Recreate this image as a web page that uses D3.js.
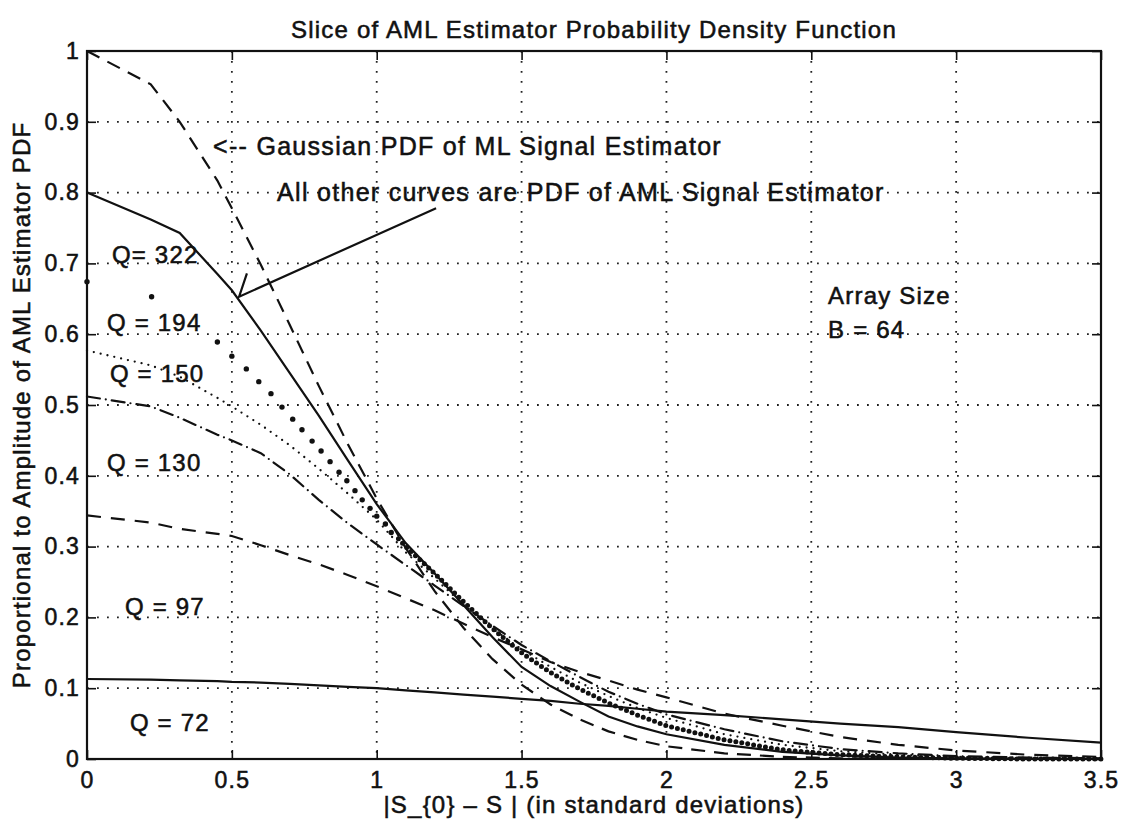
<!DOCTYPE html>
<meta charset="utf-8">
<style>
body { margin: 0; background: #fff; }
text { font-family: "Liberation Sans", Arial, Helvetica, sans-serif; fill: #111; stroke: #111; stroke-width: 0.55px; }
.grid line { stroke: #222; stroke-width: 1.8; stroke-dasharray: 1.8, 8.2; }
.axis path { display: none; }
.axis line { stroke: #111; stroke-width: 1.6; }
.axis text { font-size: 23px; letter-spacing: 1.2px; }
.curve { fill: none; stroke: #111; stroke-width: 2.2; }
.lbl { font-size: 24px; letter-spacing: 1.2px; }
.note { font-size: 25px; letter-spacing: 1.3px; }
</style>
<body>
<svg id="chart" width="1121" height="821"></svg>

<script src="https://d3js.org/d3.v7.min.js"></script>
<script>

// ---- data ----
var xTicks = [0, 0.5, 1, 1.5, 2, 2.5, 3, 3.5];
var yTicks = [0, 0.1, 0.2, 0.3, 0.4, 0.5, 0.6, 0.7, 0.8, 0.9, 1];

// common x samples (standard deviations)
var xs = [0, 0.22, 0.32, 0.45, 0.5, 0.6, 0.7, 0.8, 0.9, 1.0, 1.1, 1.2, 1.3, 1.4,
          1.5, 1.6, 1.7, 1.8, 1.9, 2.0, 2.2, 2.4, 2.6, 2.8, 3.0, 3.25, 3.5];

// Gaussian PDF of ML estimator
var gaussML = [1.0, 0.953, 0.90, 0.817, 0.778, 0.698, 0.613, 0.527, 0.445, 0.368, 0.298, 0.237, 0.185, 0.141,
               0.105, 0.077, 0.056, 0.039, 0.027, 0.018, 0.008, 0.003, 0.001, 0, 0, 0, 0];
var q322 = [0.80, 0.762, 0.743, 0.685, 0.662, 0.605, 0.545, 0.485, 0.422, 0.36, 0.305, 0.262, 0.217, 0.172,
            0.13, 0.103, 0.081, 0.06, 0.046, 0.035, 0.02, 0.01, 0.005, 0.002, 0.001, 0, 0];
var q150 = [0.577, 0.556, 0.54, 0.51, 0.498, 0.472, 0.443, 0.41, 0.375, 0.338, 0.292, 0.255, 0.218, 0.184,
            0.155, 0.13, 0.108, 0.089, 0.072, 0.058, 0.035, 0.02, 0.011, 0.006, 0.003, 0.001, 0];
var q130 = [0.512, 0.498, 0.482, 0.458, 0.45, 0.432, 0.402, 0.366, 0.333, 0.303, 0.274, 0.245, 0.216, 0.188,
            0.161, 0.138, 0.116, 0.095, 0.078, 0.063, 0.042, 0.025, 0.014, 0.008, 0.004, 0.002, 0.001];
var q97 = [0.344, 0.334, 0.325, 0.318, 0.315, 0.302, 0.288, 0.275, 0.26, 0.244, 0.227, 0.21, 0.191, 0.172,
           0.155, 0.137, 0.123, 0.111, 0.098, 0.087, 0.064, 0.047, 0.031, 0.02, 0.012, 0.006, 0.003];
var q72 = [0.113, 0.112, 0.111, 0.11, 0.109, 0.108, 0.106, 0.104, 0.102, 0.1, 0.097, 0.094, 0.091, 0.088,
           0.085, 0.082, 0.078, 0.075, 0.071, 0.067, 0.062, 0.056, 0.05, 0.045, 0.038, 0.03, 0.023];

// Q = 194 is drawn with point markers at its own sample positions
var x194 = [0, 0.223, 0.45, 0.5, 0.55, 0.593, 0.635, 0.673, 0.71, 0.742, 0.777, 0.808, 0.839, 0.87,
            0.897, 0.925, 0.95, 0.977, 1.0, 1.03, 1.05, 1.075,
            1.1, 1.2, 1.3, 1.4, 1.5, 1.6, 1.7, 1.8, 1.9, 2.0, 2.2, 2.4, 2.6, 2.8, 3.0, 3.25, 3.5];
var y194 = [0.674, 0.653, 0.589, 0.569, 0.551, 0.533, 0.516, 0.497, 0.48, 0.465, 0.449, 0.435, 0.42, 0.405,
            0.393, 0.379, 0.366, 0.354, 0.343, 0.332, 0.32, 0.311,
            0.30, 0.262, 0.222, 0.184, 0.15, 0.122, 0.099, 0.079, 0.062, 0.047, 0.027, 0.013, 0.006, 0.003, 0.001, 0, 0];

// text labels placed in data units [x, y, text]
var curveLabels = [
  [0.086, 0.712, "Q= 322"],
  [0.069, 0.616, "Q = 194"],
  [0.079, 0.544, "Q = 150"],
  [0.069, 0.419, "Q = 130"],
  [0.131, 0.215, "Q = 97"],
  [0.148, 0.051, "Q = 72"],
  [2.558, 0.655, "Array Size"],
  [2.558, 0.606, "B = 64"]
];
var notes = [
  [0.435, 0.866, "<-- Gaussian PDF of ML Signal Estimator"],
  [0.656, 0.801, "All other curves are PDF of AML Signal Estimator"]
];
// arrow from the note to the Q = 322 curve: [start, tip, barb]
var arrowPts = [[1.205, 0.778], [0.525, 0.653], [0.552, 0.686]];

// ---- layout ----
var margin = {top: 51, right: 20, bottom: 62, left: 87},
    width = 1121 - margin.left - margin.right,
    height = 821 - margin.top - margin.bottom;

var x = d3.scaleLinear().domain([0, 3.5]).range([0, width]);
var y = d3.scaleLinear().domain([0, 1]).range([height, 0]);

var svg = d3.select("#chart")
  .append("g")
    .attr("transform", "translate(" + margin.left + "," + margin.top + ")");

// grid
var grid = svg.append("g").attr("class", "grid");
grid.selectAll("vline").data(xTicks.slice(1, -1)).enter().append("line")
    .attr("x1", function(d) { return x(d); }).attr("x2", function(d) { return x(d); })
    .attr("y1", 0).attr("y2", height);
grid.selectAll("hline").data(yTicks.slice(1, -1)).enter().append("line")
    .attr("x1", 0).attr("x2", width)
    .attr("y1", function(d) { return y(d); }).attr("y2", function(d) { return y(d); });

var fmt = d3.format("~g");

// axes, ticks pointing inward on all four sides
svg.append("g").attr("class", "axis")
    .attr("transform", "translate(0," + height + ")")
    .call(d3.axisBottom(x).tickValues(xTicks).tickSize(-9).tickPadding(13).tickFormat(fmt));
svg.append("g").attr("class", "axis")
    .call(d3.axisLeft(y).tickValues(yTicks).tickSize(-9).tickPadding(7).tickFormat(fmt));
svg.append("g").attr("class", "axis")
    .call(d3.axisTop(x).tickValues(xTicks).tickSize(-9).tickFormat(""));
svg.append("g").attr("class", "axis")
    .attr("transform", "translate(" + width + ",0)")
    .call(d3.axisRight(y).tickValues(yTicks).tickSize(-9).tickFormat(""));

svg.append("rect")
    .attr("width", width).attr("height", height)
    .style("fill", "none").style("stroke", "#111").style("stroke-width", 2.2);

// curves
var line = d3.line()
    .x(function(d) { return x(d[0]); })
    .y(function(d) { return y(d[1]); });

function pairs(xv, yv) { return xv.map(function(d, i) { return [d, yv[i]]; }); }

var series = [
  {v: gaussML, dash: "14,9",       w: 2.2, cap: "butt"},
  {v: q322,    dash: null,         w: 2.2, cap: "butt"},
  {v: q150,    dash: "0,7",        w: 2.3, cap: "round"},
  {v: q130,    dash: "13,6,0,6",   w: 2.2, cap: "round"},
  {v: q97,     dash: "14,10",      w: 2.2, cap: "butt"},
  {v: q72,     dash: null,         w: 2.2, cap: "butt"}
];

series.forEach(function(s) {
  svg.append("path")
      .datum(pairs(xs, s.v))
      .attr("class", "curve")
      .style("stroke-width", s.w)
      .style("stroke-dasharray", s.dash)
      .style("stroke-linecap", s.cap)
      .attr("d", line);
});

// Q = 194 : point markers, merging into a chain of dots in the tail
var pts194 = pairs(x194, y194);
svg.append("path")
    .datum(pts194.filter(function(d) { return d[0] >= 1.075; }))
    .attr("class", "curve")
    .style("stroke-width", 5)
    .style("stroke-dasharray", "0,6")
    .style("stroke-linecap", "round")
    .attr("d", line);
svg.selectAll("dot194")
    .data(pts194.filter(function(d) { return d[0] < 1.075; }))
  .enter().append("circle")
    .attr("cx", function(d) { return x(d[0]); })
    .attr("cy", function(d) { return y(d[1]); })
    .attr("r", 2.7)
    .style("fill", "#111");

// annotation arrow
svg.append("path")
    .datum([arrowPts[0], arrowPts[1], arrowPts[2]])
    .attr("class", "curve")
    .attr("d", line);

// texts
svg.selectAll("clabel")
    .data(curveLabels)
  .enter().append("text")
    .attr("class", "lbl")
    .attr("x", function(d) { return x(d[0]); })
    .attr("y", function(d) { return y(d[1]); })
    .attr("dy", "0.35em")
    .text(function(d) { return d[2]; });

svg.selectAll("note")
    .data(notes)
  .enter().append("text")
    .attr("class", "note")
    .attr("x", function(d) { return x(d[0]); })
    .attr("y", function(d) { return y(d[1]); })
    .attr("dy", "0.35em")
    .text(function(d) { return d[2]; });

svg.append("text")
    .attr("class", "lbl")
    .attr("x", width / 2).attr("y", -21)
    .attr("dy", "0.35em")
    .attr("text-anchor", "middle")
    .text("Slice of AML Estimator Probability Density Function");

svg.append("text")
    .attr("class", "lbl")
    .attr("x", width / 2).attr("y", height + 46)
    .attr("dy", "0.35em")
    .attr("text-anchor", "middle")
    .text("|S_{0} \u2013 S | (in standard deviations)");

svg.append("text")
    .attr("class", "lbl")
    .attr("transform", "translate(" + (-65) + "," + (height / 2) + ") rotate(-90)")
    .attr("dy", "0.35em")
    .attr("text-anchor", "middle")
    .text("Proportional to Amplitude of AML Estimator PDF");

</script>
</body>
